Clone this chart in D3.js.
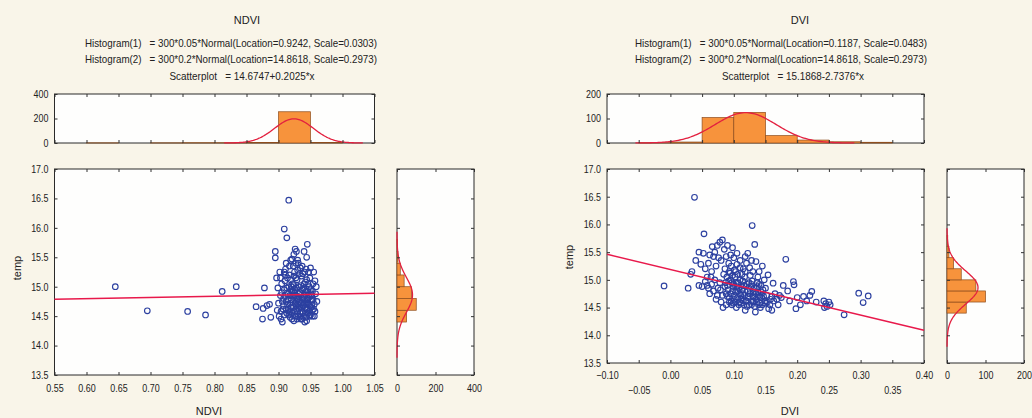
<!DOCTYPE html>
<html>
<head>
<meta charset="utf-8">
<script src="https://cdn.jsdelivr.net/npm/d3@7"></script>
<style>
  body { margin: 0; background: #f9f5e9; }
  svg text { font-family: "Liberation Sans Narrow", "Liberation Sans", Arial, sans-serif; fill: #222; }
</style>
</head>
<body>
<svg width="1032" height="418"></svg>
<script>
// ---- data ----
const tempTicks = [13.5, 14.0, 14.5, 15.0, 15.5, 16.0, 16.5, 17.0];
const ndviTicks = [0.55, 0.60, 0.65, 0.70, 0.75, 0.80, 0.85, 0.90, 0.95, 1.00, 1.05];
const dviTicks = [-0.10, -0.05, 0.00, 0.05, 0.10, 0.15, 0.20, 0.25, 0.30, 0.35, 0.40];

// histogram of temp (bin width 0.2), same for both panels
const tempBinStart = [14.4, 14.6, 14.8, 15.0, 15.2, 15.4, 15.6];
const tempCounts = [50, 100, 75, 37, 17, 5, 2];

// histogram of NDVI (bin width 0.05)
const ndviBinStart = [0.60, 0.65, 0.70, 0.75, 0.80, 0.85, 0.90, 0.95];
const ndviCounts = [1, 0, 1, 2, 2, 4, 255, 5];

// histogram of DVI (bin width 0.05)
const dviBinStart = [-0.05, 0.00, 0.05, 0.10, 0.15, 0.20, 0.25, 0.30];
const dviCounts = [1, 4, 104, 125, 30, 12, 5, 3];

// fitted normals and regressions, from the titles
const ndviFit = { n: 300, bw: 0.05, loc: 0.9242, scale: 0.0303 };
const dviFit = { n: 300, bw: 0.05, loc: 0.1187, scale: 0.0483 };
const tempFit = { n: 300, bw: 0.2, loc: 14.8618, scale: 0.2973 };
const ndviLine = { a: 14.6747, b: 0.2025 };
const dviLine = { a: 15.1868, b: -2.7376 };

const ndviPoints = [
  [0.645,15.00],[0.695,14.59],[0.758,14.58],[0.786,14.52],[0.812,14.92],[0.834,15.00],[0.865,14.66],
  [0.875,14.45],[0.878,14.98],[0.876,14.63],[0.882,14.68],[0.888,14.48],[0.886,14.70],
  [0.916,16.47],[0.909,15.98],[0.913,15.83],[0.945,15.72],[0.895,15.60],[0.895,15.49],[0.926,15.64],
  [0.928,15.60],[0.940,15.60],[0.924,15.55],[0.921,15.47],[0.930,15.45],[0.944,15.50],
  [0.897,15.15],[0.899,14.98],[0.902,15.25],[0.905,15.05],[0.903,14.85],[0.900,14.72],[0.898,14.60],
  [0.901,14.50],[0.904,14.45],[0.906,14.40],[0.907,14.62],[0.908,14.80],[0.909,14.95],[0.910,15.10],
  [0.911,15.30],[0.912,15.40],[0.913,14.55],[0.914,14.70],[0.915,14.88],[0.916,15.00],[0.917,15.20],
  [0.918,14.48],[0.919,14.65],[0.920,14.78],[0.921,14.92],[0.922,15.05],[0.923,15.35],[0.924,14.42],
  [0.925,14.58],[0.926,14.72],[0.927,14.85],[0.928,14.98],[0.929,15.12],[0.930,15.28],[0.931,14.50],
  [0.932,14.62],[0.933,14.75],[0.934,14.90],[0.935,15.02],[0.936,15.18],[0.937,14.45],[0.938,14.56],
  [0.939,14.68],[0.940,14.82],[0.941,14.95],[0.942,15.08],[0.943,15.30],[0.944,14.42],[0.945,14.60],
  [0.946,14.72],[0.947,14.86],[0.948,15.00],[0.949,15.15],[0.950,14.52],[0.951,14.65],[0.952,14.78],
  [0.953,14.92],[0.954,15.05],[0.955,15.25],[0.956,14.70],[0.957,14.58],[0.958,14.88],[0.959,15.00],
  [0.960,14.75],[0.912,14.75],[0.918,14.85],[0.922,14.68],[0.926,14.95],[0.930,14.70],[0.934,14.55],
  [0.938,14.80],[0.942,14.65],[0.946,14.92],[0.915,14.60],[0.920,15.00],[0.928,14.62],[0.932,14.88],
  [0.936,14.72],[0.940,15.05],[0.944,14.78],[0.948,14.58],[0.952,14.85],[0.908,14.68],[0.916,14.52],
  [0.924,14.82],[0.927,15.15],[0.933,15.22],[0.939,14.97],[0.943,14.48],[0.947,15.25],[0.905,14.90],
  [0.911,14.85],[0.919,15.12],[0.925,15.25],[0.929,14.45],[0.937,15.35],[0.941,14.40],[0.949,14.68],
  [0.953,14.60],[0.957,15.10],[0.903,15.15],[0.914,15.15],[0.921,14.45],[0.935,14.45],[0.950,14.95],
  [0.956,14.50],[0.931,14.80],[0.923,14.92],
  [0.904,14.58],[0.906,14.75],[0.909,14.52],[0.912,14.62],[0.913,14.98],[0.915,14.78],[0.917,14.58],
  [0.918,14.72],[0.919,14.95],[0.921,14.55],[0.922,14.85],[0.923,14.65],[0.925,14.90],[0.926,14.50],
  [0.927,14.70],[0.929,14.80],[0.930,14.58],[0.931,15.00],[0.932,14.70],[0.933,14.48],[0.934,14.65],
  [0.935,14.85],[0.936,14.58],[0.937,14.95],[0.938,14.68],[0.939,14.50],[0.940,14.72],[0.941,14.85],
  [0.942,14.55],[0.943,14.92],[0.944,14.62],[0.945,14.80],[0.946,14.55],[0.947,14.70],[0.948,14.82],
  [0.949,14.50],[0.950,14.78],[0.951,14.88],[0.952,14.68],[0.953,14.50],[0.954,14.78],[0.955,14.62],
  [0.911,15.20],[0.917,15.35],[0.924,15.18],[0.931,15.40],[0.938,15.22],[0.944,15.12],[0.950,15.32],
  [0.927,15.40],[0.934,15.32],[0.919,15.45],[0.941,15.25],[0.946,15.05],[0.924,15.02],[0.909,15.25],
  [0.920,14.52],[0.928,14.75],[0.936,14.65],[0.943,14.72]
];

const dviPoints = [
  [0.038,16.49],[0.129,15.98],[0.053,15.83],[0.133,15.64],[0.182,15.37],[-0.010,14.89],[0.028,14.85],
  [0.034,15.15],[0.032,15.10],[0.297,14.76],[0.312,14.71],[0.304,14.59],[0.274,14.37],[0.223,14.79],
  [0.198,14.48],[0.194,14.97],[0.195,14.91],[0.178,14.90],[0.162,14.94],[0.154,15.09],[0.242,14.62],
  [0.245,14.57],[0.247,14.52],[0.250,14.60],[0.243,14.50],[0.252,14.55],[0.210,14.70],[0.215,14.62],
  [0.205,14.55],[0.220,14.72],[0.188,14.62],[0.175,14.68],[0.170,14.55],[0.165,14.75],[0.160,14.45],
  [0.185,14.80],[0.200,14.68],[0.230,14.60],
  [0.040,15.35],[0.045,15.50],[0.048,15.28],[0.052,15.48],[0.055,15.20],[0.058,15.05],[0.060,15.30],
  [0.062,15.45],[0.066,15.60],[0.070,15.50],[0.074,15.62],[0.078,15.68],[0.082,15.72],[0.085,15.55],
  [0.090,15.62],[0.095,15.45],[0.100,15.40],[0.098,15.58],[0.105,15.28],[0.110,15.35],[0.115,15.20],
  [0.120,15.30],[0.125,15.22],[0.118,15.42],[0.122,15.48],[0.128,15.35],[0.135,15.33],[0.140,15.15],
  [0.145,15.25],[0.092,15.30],[0.086,15.20],[0.072,15.25],[0.065,15.15],
  [0.045,14.90],[0.050,14.88],[0.055,14.97],[0.060,14.85],[0.062,14.75],[0.065,14.92],[0.068,14.80],
  [0.070,15.00],[0.072,14.65],[0.075,14.85],[0.078,14.95],[0.080,14.60],[0.082,14.72],[0.084,15.10],
  [0.086,14.88],[0.088,14.55],[0.090,14.70],[0.092,14.98],[0.094,15.12],[0.096,14.62],[0.098,14.80],
  [0.100,14.92],[0.102,15.05],[0.104,14.50],[0.106,14.68],[0.108,14.85],[0.110,15.00],[0.112,14.58],
  [0.114,14.75],[0.116,14.90],[0.118,14.45],[0.120,14.62],[0.122,14.80],[0.124,14.95],[0.126,15.08],
  [0.128,14.55],[0.130,14.70],[0.132,14.85],[0.134,14.42],[0.136,14.60],[0.138,14.78],[0.140,14.92],
  [0.142,14.50],[0.144,14.68],[0.146,14.82],[0.148,15.00],[0.150,14.58],[0.152,14.72],[0.155,14.48],
  [0.158,14.65],[0.091,14.82],[0.095,14.75],[0.099,14.58],[0.103,14.78],[0.107,14.95],[0.111,14.72],
  [0.115,14.62],[0.119,14.88],[0.123,14.70],[0.127,14.88],[0.131,14.62],[0.135,14.75],[0.139,14.55],
  [0.143,14.90],[0.097,14.95],[0.101,14.65],[0.105,14.88],[0.109,14.60],[0.113,14.82],[0.117,15.05],
  [0.121,14.52],[0.125,14.75],[0.129,14.98],[0.133,14.68],[0.137,14.88],[0.141,14.70],[0.089,15.05],
  [0.093,14.60],[0.103,15.15],[0.113,15.10],[0.087,14.95],
  [0.088,14.75],[0.090,14.90],[0.093,14.68],[0.095,15.00],[0.097,14.55],[0.099,14.88],[0.101,14.72],
  [0.102,14.60],[0.104,14.95],[0.106,14.80],[0.108,14.55],[0.109,14.75],[0.111,14.88],[0.112,14.65],
  [0.114,14.98],[0.116,14.55],[0.117,14.72],[0.119,14.62],[0.121,14.92],[0.122,14.68],[0.124,14.55],
  [0.126,14.80],[0.128,14.92],[0.130,14.60],[0.131,14.78],[0.133,14.52],[0.135,14.65],[0.137,14.95],
  [0.139,14.72],[0.141,14.58],[0.143,14.78],[0.145,14.55],[0.147,14.70],[0.149,14.62],[0.153,14.60],
  [0.157,14.55],[0.160,14.70],[0.163,14.62],[0.168,14.65],[0.172,14.72],[0.093,15.15],[0.098,15.08],
  [0.106,15.10],[0.110,15.22],[0.096,15.25],[0.101,15.18],[0.076,15.40],[0.080,15.35],[0.068,15.42],
  [0.088,15.42],[0.105,15.48],[0.064,15.05],[0.058,14.90],[0.074,14.72],[0.079,14.82],[0.083,14.50],
  [0.118,15.15],[0.130,15.15],[0.138,15.05],[0.150,14.85]
];

const svg = d3.select("svg");
const fontSize = "10.5px";
const orange = "#f7933c", barEdge = "#8d4c1c", red = "#e3203f", blue = "#2c40a0";

svg.append("rect").attr("width", 1032).attr("height", 418).attr("fill", "#f9f5e9");

function normal(fit, v) {
  const z = (v - fit.loc) / fit.scale;
  return fit.n * fit.bw * Math.exp(-0.5 * z * z) / (fit.scale * Math.sqrt(2 * Math.PI));
}

function box(b) {
  svg.append("rect")
    .attr("x", b.x).attr("y", b.y).attr("width", b.w).attr("height", b.h)
    .attr("fill", "#fefefd").attr("stroke", "#2a2a2a").attr("stroke-width", 1);
}

// statistica style: ticks inside, narrow labels
function inner(g) {
  g.select(".domain").remove();
  g.selectAll(".tick line").attr("stroke", "#333");
  g.selectAll("text").style("font-size", fontSize);
}

function narrow(g, anchor) {
  g.selectAll("text").attr("transform", function () {
    const t = d3.select(this);
    const x = +t.attr("x") || 0;
    return "translate(" + x + ",0) scale(0.85,1) translate(" + (-x) + ",0)";
  });
}

function drawPanel(p) {
  const xs = d3.scaleLinear().domain([p.xTicks[0], p.xTicks[p.xTicks.length - 1]]).range([p.scat.x, p.scat.x + p.scat.w]);
  const ys = d3.scaleLinear().domain([13.5, 17.0]).range([p.scat.y + p.scat.h, p.scat.y]);
  const yh = d3.scaleLinear().domain([0, p.topMax]).range([p.top.y + p.top.h, p.top.y]);
  const xc = d3.scaleLinear().domain([0, p.sideMax]).range([p.side.x, p.side.x + p.side.w]);
  const xt = xs.copy().range([p.top.x, p.top.x + p.top.w]);

  // titles
  const tl = svg.append("g").style("font-size", "11px");
  p.titles.forEach(function (t) {
    const txt = tl.append("text").attr("x", t.cx).attr("y", t.y)
      .attr("text-anchor", "middle").style("white-space", "pre").text(t.s);
    if (t.len) txt.attr("textLength", t.len).attr("lengthAdjust", "spacingAndGlyphs");
  });

  // top histogram
  box(p.top);
  svg.append("g").selectAll("rect").data(p.binStart).join("rect")
    .attr("x", function (d) { return xt(d); })
    .attr("width", function (d) { return xt(d + p.fit.bw) - xt(d); })
    .attr("y", function (d, i) { return yh(p.counts[i]); })
    .attr("height", function (d, i) { return yh(0) - yh(p.counts[i]); })
    .attr("fill", orange).attr("stroke", barEdge).attr("stroke-width", 0.7);
  const tx = d3.range(p.fit.loc - 3.6 * p.fit.scale, p.fit.loc + 3.6 * p.fit.scale, p.fit.scale / 20);
  svg.append("path").datum(tx)
    .attr("d", d3.line().x(function (d) { return xt(d); }).y(function (d) { return yh(normal(p.fit, d)); }))
    .attr("fill", "none").attr("stroke", red).attr("stroke-width", 1.3);
  svg.append("g").attr("transform", "translate(" + p.top.x + ",0)")
    .call(d3.axisLeft(yh).tickValues(p.topTicks).tickSize(-3).tickPadding(6)).call(inner).call(narrow);
  svg.append("g").attr("transform", "translate(" + (p.top.x + p.top.w) + ",0)")
    .call(d3.axisRight(yh).tickValues(p.topTicks).tickSize(-3).tickFormat("")).call(inner);
  svg.append("g").attr("transform", "translate(0," + p.top.y + ")")
    .call(d3.axisTop(xt).tickValues(p.xTicks).tickSize(-3).tickFormat("")).call(inner);
  svg.append("g").attr("transform", "translate(0," + (p.top.y + p.top.h) + ")")
    .call(d3.axisBottom(xt).tickValues(p.xTicks).tickSize(-3).tickFormat("")).call(inner);

  // scatter
  box(p.scat);
  svg.append("g").selectAll("circle").data(p.points).join("circle")
    .attr("cx", function (d) { return xs(d[0]); })
    .attr("cy", function (d) { return ys(d[1]); })
    .attr("r", 2.8).attr("fill", "none").attr("stroke", blue).attr("stroke-width", 1.15);
  const x0 = xs.domain()[0], x1 = xs.domain()[1];
  svg.append("line")
    .attr("x1", xs(x0)).attr("y1", ys(p.line.a + p.line.b * x0))
    .attr("x2", xs(x1)).attr("y2", ys(p.line.a + p.line.b * x1))
    .attr("stroke", "#e8194b").attr("stroke-width", 1.5);

  svg.append("g").attr("transform", "translate(" + p.scat.x + ",0)")
    .call(d3.axisLeft(ys).tickValues(tempTicks).tickFormat(d3.format(".1f")).tickSize(-3).tickPadding(6)).call(inner).call(narrow);
  svg.append("g").attr("transform", "translate(" + (p.scat.x + p.scat.w) + ",0)")
    .call(d3.axisRight(ys).tickValues(tempTicks).tickSize(-3).tickFormat("")).call(inner);
  svg.append("g").attr("transform", "translate(0," + p.scat.y + ")")
    .call(d3.axisTop(xs).tickValues(p.xTicks).tickSize(-3).tickFormat("")).call(inner);
  const xb = svg.append("g").attr("transform", "translate(0," + (p.scat.y + p.scat.h) + ")")
    .call(d3.axisBottom(xs).tickValues(p.xTicks).tickFormat(d3.format(".2f")).tickSize(-3).tickPadding(p.padX)).call(inner);
  if (p.twoRows) {
    xb.selectAll("text").attr("y", function (d, i) { return i % 2 === 0 ? p.padX : p.padX + 15; });
  }
  xb.call(narrow);

  // side histogram
  box(p.side);
  svg.append("g").selectAll("rect").data(tempBinStart).join("rect")
    .attr("x", xc(0))
    .attr("width", function (d, i) { return xc(tempCounts[i]) - xc(0); })
    .attr("y", function (d) { return ys(d + tempFit.bw); })
    .attr("height", function (d) { return ys(d) - ys(d + tempFit.bw); })
    .attr("fill", orange).attr("stroke", barEdge).attr("stroke-width", 0.7);
  const ty = d3.range(tempFit.loc - 3.6 * tempFit.scale, tempFit.loc + 3.6 * tempFit.scale, tempFit.scale / 20);
  svg.append("path").datum(ty)
    .attr("d", d3.line().x(function (d) { return xc(normal(tempFit, d)); }).y(function (d) { return ys(d); }))
    .attr("fill", "none").attr("stroke", red).attr("stroke-width", 1.3);
  svg.append("g").attr("transform", "translate(" + p.side.x + ",0)")
    .call(d3.axisLeft(ys).tickValues(tempTicks).tickSize(-3).tickFormat("")).call(inner);
  svg.append("g").attr("transform", "translate(" + (p.side.x + p.side.w) + ",0)")
    .call(d3.axisRight(ys).tickValues(tempTicks).tickSize(-3).tickFormat("")).call(inner);
  svg.append("g").attr("transform", "translate(0," + p.side.y + ")")
    .call(d3.axisTop(xc).tickValues(p.sideTicks).tickSize(-3).tickFormat("")).call(inner);
  svg.append("g").attr("transform", "translate(0," + (p.side.y + p.side.h) + ")")
    .call(d3.axisBottom(xc).tickValues(p.sideTicks).tickSize(-3).tickPadding(p.padX)).call(inner).call(narrow);

  // axis titles
  svg.append("text").attr("x", p.xLabel.x).attr("y", p.xLabel.y)
    .attr("text-anchor", "middle").style("font-size", "11px").text(p.xLabel.s);
  svg.append("text")
    .attr("transform", "translate(" + p.yLabel.x + "," + p.yLabel.y + ") rotate(-90)")
    .attr("text-anchor", "middle").style("font-size", "11px").text("temp");
}

drawPanel({
  xTicks: ndviTicks, points: ndviPoints, line: ndviLine, fit: ndviFit,
  binStart: ndviBinStart, counts: ndviCounts, topMax: 400, topTicks: [0, 200, 400],
  sideMax: 400, sideTicks: [0, 200, 400],
  top: { x: 54.5, y: 94, w: 320, h: 49 },
  scat: { x: 54.5, y: 169, w: 320, h: 206 },
  side: { x: 397, y: 169, w: 77, h: 206 },
  padX: 10, twoRows: false,
  titles: [
    { s: "NDVI", cx: 247, y: 24 },
    { s: "Histogram(1)   = 300*0.05*Normal(Location=0.9242, Scale=0.0303)", cx: 231, y: 47, len: 292 },
    { s: "Histogram(2)   = 300*0.2*Normal(Location=14.8618, Scale=0.2973)", cx: 231, y: 63, len: 292 },
    { s: "Scatterplot   = 14.6747+0.2025*x", cx: 242, y: 80, len: 145 }
  ],
  xLabel: { s: "NDVI", x: 209, y: 415 },
  yLabel: { x: 21, y: 268 }
});

drawPanel({
  xTicks: dviTicks, points: dviPoints, line: dviLine, fit: dviFit,
  binStart: dviBinStart, counts: dviCounts, topMax: 200, topTicks: [0, 100, 200],
  sideMax: 200, sideTicks: [0, 100, 200],
  top: { x: 607, y: 94, w: 317, h: 49 },
  scat: { x: 607, y: 169, w: 317, h: 194 },
  side: { x: 947, y: 169, w: 77, h: 194 },
  padX: 9, twoRows: true,
  titles: [
    { s: "DVI", cx: 800, y: 24 },
    { s: "Histogram(1)   = 300*0.05*Normal(Location=0.1187, Scale=0.0483)", cx: 781, y: 47, len: 292 },
    { s: "Histogram(2)   = 300*0.2*Normal(Location=14.8618, Scale=0.2973)", cx: 781, y: 63, len: 292 },
    { s: "Scatterplot   = 15.1868-2.7376*x", cx: 793, y: 80, len: 142 }
  ],
  xLabel: { s: "DVI", x: 790, y: 415 },
  yLabel: { x: 573, y: 257 }
});
</script>
</body>
</html>
